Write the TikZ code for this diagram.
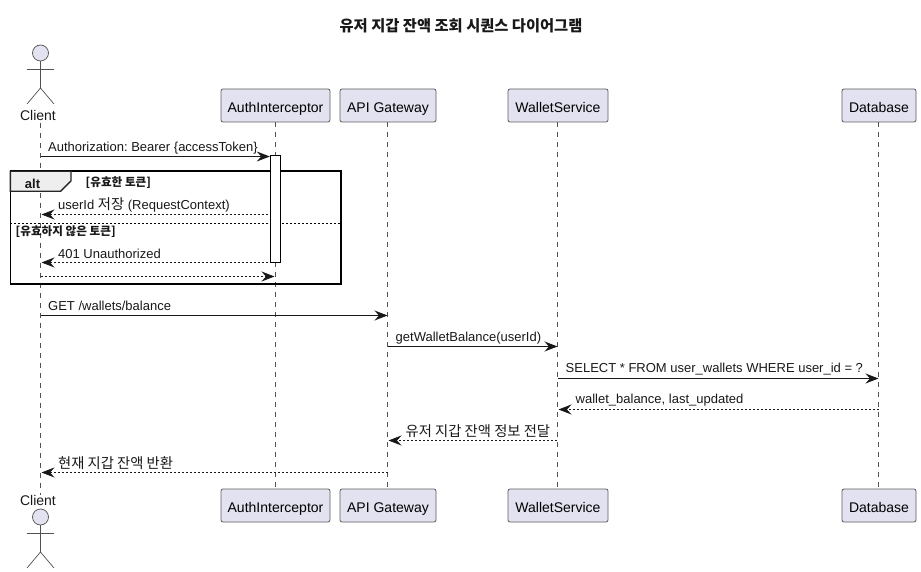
\documentclass[tikz,border=0pt]{standalone}
\usepackage{fontspec}
\setmainfont{Liberation Sans}
\newfontfamily\kr{Noto Sans CJK KR}
\usepackage{xcolor}
\usetikzlibrary{arrows.meta}
\usetikzlibrary{math}
\definecolor{mybox}{RGB}{226,226,240}
\definecolor{myline}{RGB}{24,24,24}
\definecolor{mytab}{RGB}{238,238,238}
\frenchspacing
\tikzset{
 partbox/.style={draw=myline!70, line width=0.8pt, fill=mybox, rounded corners=2pt, minimum height=33pt, inner sep=0pt, text height=14pt, text depth=0pt, font=\fontsize{14}{16}\selectfont},
 lifeline/.style={draw=myline!75, line width=0.7pt, dash pattern=on 5pt off 5pt},
 syncmsg/.style={-{Stealth[length=13pt,width=10pt,inset=4.5pt]}, draw=myline, line width=1pt},
 retmsg/.style={-{Stealth[length=13pt,width=10pt,inset=4.5pt]}, draw=myline, line width=0.8pt, dash pattern=on 2pt off 2pt},
 msglabel/.style={anchor=west, inner sep=0pt, text=myline, font=\fontsize{13}{15}\selectfont},
 guardlabel/.style={anchor=west, inner sep=0pt, text=myline, font=\kr\bfseries\fontsize{11.6}{13}\selectfont},
 actorline/.style={draw=myline!75, line width=0.7pt},
}
\begin{document}
\begin{tikzpicture}[x=1pt,y=-1pt]
\tikzmath{
\xc=40.5;
\xa=275.5;
\xg=387.5;
\xw=557.5;
\xd=878.5;
}
\useasboundingbox (0,0) rectangle (921,572);

\node[inner sep=0pt, font=\kr\bfseries\fontsize{15.3}{18}\selectfont, text=myline] (title) at (461,25.5) {유저 지갑 잔액 조회 시퀀스 다이어그램};

 % participants
 \node[partbox, minimum width=109pt] (AuthTop) at (\xa,105.5) {AuthInterceptor};
 \node[partbox, minimum width=96pt] (GateTop) at (388,105.5) {API Gateway};
 \node[partbox, minimum width=100pt] (WalletTop) at (558,105.5) {WalletService};
 \node[partbox, minimum width=74pt] (DbTop) at (879,105.5) {Database};

 \node[partbox, minimum width=109pt] (AuthBot) at (\xa,505.5) {AuthInterceptor};
 \node[partbox, minimum width=96pt] (GateBot) at (388,505.5) {API Gateway};
 \node[partbox, minimum width=100pt] (WalletBot) at (558,505.5) {WalletService};
 \node[partbox, minimum width=74pt] (DbBot) at (879,505.5) {Database};

 \node[inner sep=0pt, font=\fontsize{14}{16}\selectfont, text=myline] (ClientTop) at (38,115.5) {Client};
 \node[inner sep=0pt, font=\fontsize{14}{16}\selectfont, text=myline] (ClientBot) at (38,500.5) {Client};

 % actors
 \foreach \yo in {53,517}{
  \draw[actorline, fill=mybox] (\xc,\yo) circle (8pt);
  \draw[actorline] (\xc,\yo+8) -- (\xc,\yo+35) (\xc-13.5,\yo+16) -- (\xc+13.5,\yo+16);
  \draw[actorline] (\xc-13.5,\yo+51) -- (\xc,\yo+35) -- (\xc+13.5,\yo+51);
 }

 % lifelines
 \draw[lifeline] (\xc,0 |- ClientTop.south) ++(0,2) -- (\xc,0 |- ClientBot.north);
 \draw[lifeline] (\xa,0 |- AuthTop.south) -- (\xa,0 |- AuthBot.north);
 \draw[lifeline] (\xg,0 |- GateTop.south) -- (\xg,0 |- GateBot.north);
 \draw[lifeline] (\xw,0 |- WalletTop.south) -- (\xw,0 |- WalletBot.north);
 \draw[lifeline] (\xd,0 |- DbTop.south) -- (\xd,0 |- DbBot.north);

 % alt frame
 \draw[line width=1.6pt, draw=black] (10.3,171.3) rectangle (340.7,284);
 \draw[line width=1.4pt, draw=black!85, fill=mytab] (10.3,171.3) -- (71,171.3) -- (71,181) -- (60.5,191.3) -- (10.3,191.3) -- cycle;
 \draw[line width=0.8pt, draw=black, dash pattern=on 2pt off 2pt] (10.3,223.3) -- (340.7,223.3);
 \node[inner sep=0pt, font=\bfseries\fontsize{13}{15}\selectfont, text=myline] (altlabel) at (32.5,183.5) {alt};
 \node[guardlabel] (guard1) at (85.5,182.5) {[유효한 토큰]};
 \node[guardlabel] (guard2) at (15.5,232) {[유효하지 않은 토큰]};

 % activation
 \node[draw=black, fill=white, line width=1pt, minimum width=10pt, minimum height=106.5pt, inner sep=0pt] (Act) at (275.3,209.2) {};

 % messages
 \coordinate (M1) at (0,156.5);
 \coordinate (M2) at (0,214.5);
 \coordinate (M3) at (0,262.5);
 \coordinate (M4) at (0,276.5);
 \coordinate (M5) at (0,315.5);
 \coordinate (M6) at (0,346.5);
 \coordinate (M7) at (0,378.5);
 \coordinate (M8) at (0,409.5);
 \coordinate (M9) at (0,440.5);
 \coordinate (M10) at (0,472.5);

 \draw[syncmsg] (\xc,0 |- M1) -- (Act.west |- M1);
 \draw[retmsg] ([xshift=-2pt]Act.west |- M2) -- (\xc+1,0 |- M2);
 \draw[retmsg] ([xshift=-2pt]Act.west |- M3) -- (\xc+1,0 |- M3);
 \draw[retmsg] (\xc,0 |- M4) -- (\xa-1,0 |- M4);
 \draw[syncmsg] (\xc,0 |- M5) -- (\xg,0 |- M5);
 \draw[syncmsg] (\xg,0 |- M6) -- (\xw,0 |- M6);
 \draw[syncmsg] (\xw,0 |- M7) -- (\xd,0 |- M7);
 \draw[retmsg] (\xd,0 |- M8) -- (\xw+1,0 |- M8);
 \draw[retmsg] (\xw-1,0 |- M9) -- (\xg+1,0 |- M9);
 \draw[retmsg] (\xg,0 |- M10) -- (\xc+1,0 |- M10);

 \node[msglabel] (l1) at (48,148) {Authorization: Bearer \{accessToken\}};
 \node[msglabel] (l2) at (58,205) {userId {\kr\fontsize{14.3}{15}\selectfont 저장} (RequestContext)};
 \node[msglabel] (l3) at (58,254) {401 Unauthorized};
 \node[msglabel] (l5) at (48,306) {GET /wallets/balance};
 \node[msglabel] (l6) at (395.5,338) {getWalletBalance(userId)};
 \node[msglabel] (l7) at (565.5,369.5) {SELECT * FROM user\_wallets WHERE user\_id = ?};
 \node[msglabel] (l8) at (575.5,400.5) {wallet\_balance, last\_updated};
 \node[msglabel, font=\kr\fontsize{14.3}{15}\selectfont] (l9) at (405.5,431.5) {유저 지갑 잔액 정보 전달};
 \node[msglabel, font=\kr\fontsize{14.3}{15}\selectfont] (l10) at (58,463) {현재 지갑 잔액 반환};
\end{tikzpicture}
\end{document}
